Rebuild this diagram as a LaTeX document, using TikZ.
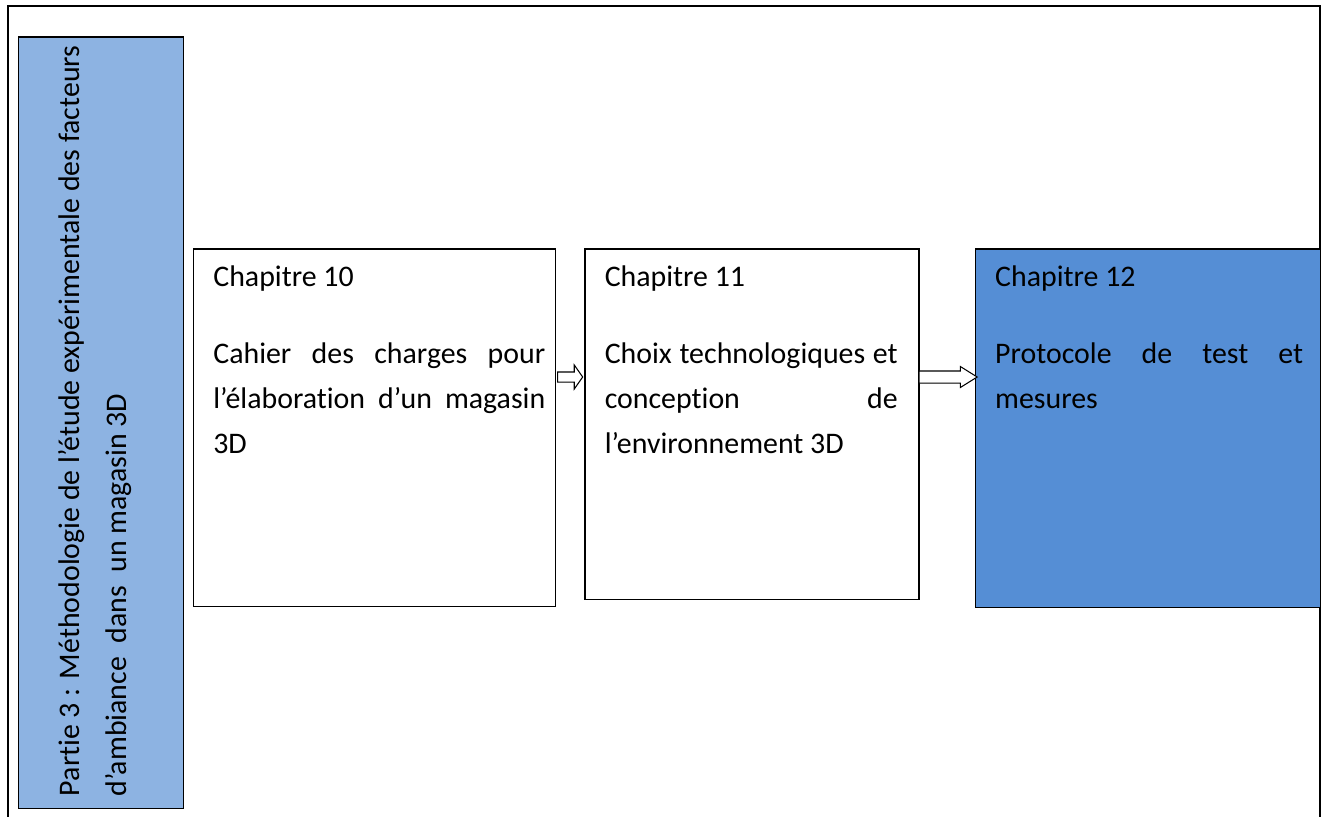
\documentclass[tikz,border=0pt]{standalone}
\usepackage{fontspec}
\setmainfont[Ligatures=NoCommon]{Carlito}
\usepackage{xcolor}
\usepackage{tikz}
\usetikzlibrary{shapes.arrows, positioning, calc}
\definecolor{partblue}{RGB}{141, 179, 226}
\definecolor{chapblue}{RGB}{85, 142, 213}

\begin{document}
\begin{tikzpicture}[
      x=0.02cm, y=-0.02cm,
      box/.style={draw, line width=0.85pt, inner sep=0pt, anchor=north west},
      chap/.style={box, fill=white},
      chapcur/.style={box, fill=chapblue},
      chtext/.style={anchor=north west, inner sep=0pt, align=justify,
                     font=\fontsize{17}{25.7}\selectfont},
      sidetext/.style={anchor=north west, inner sep=0pt, rotate=90, align=left,
                       font=\fontsize{17}{26.7}\selectfont},
      blockarr/.style={single arrow, draw, fill=white, line width=0.6pt,
                       inner xsep=0pt, single arrow head indent=0pt}
    ]
    \useasboundingbox (0,0) rectangle (1328,816);

    %% Frame
    \draw[line width=1.1pt] (8,830) -- (8,6) -- (1320,6) -- (1320,830);

    %% Partie 3
    \node[box, fill=partblue, minimum width=3.3cm, minimum height=15.44cm] (p3) at (18,36) {};
    \node[sidetext] (p3t) at ($(p3.south west)+(40,-13)$)
      {Partie 3 : Méthodologie de l’étude expérimentale des facteurs\\
       d’ambiance\ \ dans\ \ un magasin 3D};

    %% Chapitres
    \node[chap, minimum width=7.24cm, minimum height=7.16cm] (ch10) at (193,248) {};
    \node[chap, right=0.56cm of ch10.north east, anchor=north west,
          minimum width=6.68cm, minimum height=7.02cm] (ch11) {};
    \node[chapcur, right=1.1cm of ch11.north east, anchor=north west,
          minimum width=6.9cm, minimum height=7.18cm] (ch12) {};

    \node[chtext, text width=6.64cm] (t10) at ($(ch10.north west)+(20,17)$)
      {Chapitre 10\\[0.64cm]
       Cahier des charges pour\linebreak
       l’élaboration d’un magasin\linebreak
       3D};
    \node[chtext, text width=5.86cm] (t11) at ($(ch11.north west)+(20,17)$)
      {Chapitre 11\\[0.64cm]
       Choix technologiques et\linebreak
       conception de\linebreak
       l’environnement 3D};
    \node[chtext, text width=6.16cm] (t12) at ($(ch12.north west)+(20,17)$)
      {Chapitre 12\\[0.64cm]
       Protocole de test et\linebreak
       mesures};

    %% Fleches
    \node[blockarr, minimum height=0.5cm, inner ysep=0.09cm,
          single arrow head extend=0.14cm, single arrow tip angle=110] (a1)
      at ($(ch10.north east)!0.5!(ch11.north west)+(-2,129)$) {};
    \node[blockarr, minimum height=1.16cm, inner ysep=0.11cm,
          single arrow head extend=0.09cm, single arrow tip angle=64] (a2)
      at ($(ch11.north east)!0.5!(ch12.north west)+(-4,129)$) {};
  \end{tikzpicture}
\end{document}
